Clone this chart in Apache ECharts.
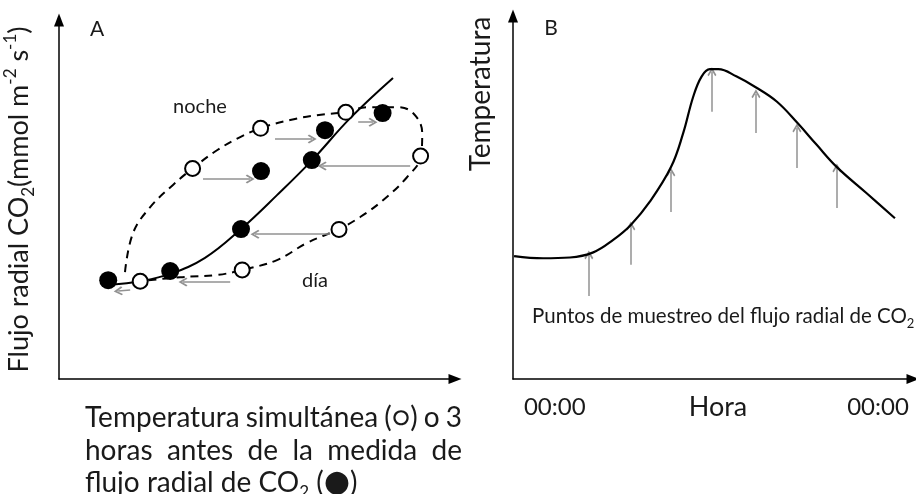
<!DOCTYPE html>
<html>
<head>
<meta charset="utf-8">
<script src="https://cdn.jsdelivr.net/npm/echarts@6/dist/echarts.min.js"></script>
</head>
<body style="margin:0;background:#fff">
<div id="main" style="width:916px;height:494px;"></div>
<script>
// Panel A: temperatura (x) frente a flujo radial de CO2 (y), unidades arbitrarias
var abiertos = [[2.03,2.68],[3.34,5.77],[5.04,6.87],[7.17,7.31],[9.04,6.11],[7.00,4.10],[4.58,2.99]];
var llenos = [[1.23,2.71],[2.78,2.96],[4.55,4.11],[5.05,5.70],[6.32,6.00],[6.65,6.82],[8.09,7.29]];
var ajuste = [[1.28,2.58],[2.03,2.68],[2.78,2.88],[3.65,3.32],[4.55,4.11],[5.45,5.04],[6.33,6.00],[7.28,7.15],[8.35,8.25]];
var bucle = [[1.65,2.93],[1.85,4.00],[2.28,4.71],[2.85,5.32],[3.35,5.78],[3.95,6.27],[4.53,6.63],[5.05,6.88],
  [5.78,7.10],[6.45,7.23],[7.18,7.32],[7.70,7.45],[8.45,7.45],[8.85,7.29],[9.08,6.74],[9.05,6.11],[8.70,5.53],
  [8.10,4.90],[7.53,4.44],[7.00,4.11],[6.20,3.73],[5.45,3.26],[4.58,2.99],[3.95,2.85],[3.03,2.79],[2.03,2.68]];
var flechasA = [
  [[1.78,2.44],[1.48,2.41]],
  [[4.28,2.66],[3.10,2.66]],
  [[3.60,5.48],[4.78,5.48]],
  [[5.40,6.58],[6.33,6.58]],
  [[7.48,7.04],[7.85,7.04]],
  [[8.78,5.84],[6.58,5.84]],
  [[6.78,3.97],[4.90,3.97]]
];

// Panel B: temperatura a lo largo del dia (horas)
var horas = [-3.02,-0.87,1.13,2.86,4.34,5.63,7.06,8.64,9.53,10.28,10.90,11.52,12.14,13.51,14.92,16.48,18.01,19.45,20.93,23.16,25.26];
var temperatura = [3.35,3.29,3.31,3.45,3.79,4.19,4.83,5.78,6.69,7.69,8.24,8.44,8.44,8.24,7.95,7.56,6.98,6.38,5.78,5.06,4.38];
var muestreoHora = [2.53,5.65,8.62,11.67,14.94,17.98,20.95];
var muestreoBase = [2.26,3.11,4.55,7.28,6.70,5.75,4.66];
var muestreoPunta = [3.38,4.17,5.64,8.37,7.77,6.84,5.75];
var horaTicks = [0, 24];

var lineasTitulo = [
  ['Temperatura', 'simultánea', '(○)', 'o', '3'],
  ['horas', 'antes', 'de', 'la', 'medida', 'de']
];

var FONT = 'Lato';
var INK = '#1a1a1a';
var GRIS = '#929292';
var punta = 'path://M5,0 L10,7 L8.6,8.2 L5,3.2 L1.4,8.2 L0,7 Z';

var curvaB = horas.map(function (h, i) { return [h, temperatura[i]]; });
var flechasB = muestreoHora.map(function (h, i) {
  return [[h, muestreoBase[i]], [h, muestreoPunta[i]]];
});

function eje(extra) {
  var o = {
    type: 'value',
    axisLine: { show: true, onZero: false, symbol: ['none', 'triangle'], symbolSize: [10, 13], lineStyle: { color: '#000', width: 1.5 } },
    axisTick: { show: false },
    axisLabel: { show: false },
    splitLine: { show: false }
  };
  for (var k in extra) o[k] = extra[k];
  return o;
}

function texto(x, y, t, size, extra) {
  var e = { type: 'text', x: x, y: y, style: { text: t, fontSize: size, fontFamily: FONT, fill: INK,
    align: 'center', textAlign: 'center', verticalAlign: 'middle', textVerticalAlign: 'middle' } };
  for (var k in extra) e[k] = extra[k];
  return e;
}

// texto justificado, palabra a palabra
var ctx = document.createElement('canvas').getContext('2d');
var TFS = 28;
ctx.font = TFS + 'px ' + FONT;
function justificar(palabras, x0, x1, y) {
  var anchos = palabras.map(function (p) { return ctx.measureText(p).width; });
  var suma = anchos.reduce(function (a, b) { return a + b; }, 0);
  var hueco = (x1 - x0 - suma) / (palabras.length - 1);
  var x = x0, out = [];
  palabras.forEach(function (p, i) {
    out.push({ type: 'text', x: x, y: y, style: { text: p, fontSize: TFS, fontFamily: FONT, fill: INK, verticalAlign: 'middle', textVerticalAlign: 'middle' } });
    x += anchos[i] + hueco;
  });
  return out;
}

var graficos = [
  texto(97, 29, 'A', 21),
  texto(551, 28, 'B', 21),
  texto(200, 107, 'noche', 20),
  texto(315, 281, 'día', 20),
  texto(481, 94, 'Temperatura', 28, { rotation: Math.PI / 2 }),
  texto(718, 407, 'Hora', 27),
  { type: 'text', x: 532, y: 316, style: {
      text: '{n|Puntos de muestreo del flujo radial de CO}{s|2}', fill: INK, verticalAlign: 'middle', textVerticalAlign: 'middle',
      rich: { n: { fontSize: 20.5, fontFamily: FONT, color: INK, lineHeight: 28 }, s: { fontSize: 13, fontFamily: FONT, color: INK, verticalAlign: 'bottom' } } } },
  { type: 'text', x: 85, y: 483, style: {
      text: '{n|flujo radial de CO}{s|2}{n| (}{p|●}{n|)}', fill: INK, verticalAlign: 'middle', textVerticalAlign: 'middle',
      rich: {
        n: { fontSize: TFS, fontFamily: FONT, color: INK, lineHeight: 36 },
        s: { fontSize: 17, fontFamily: FONT, color: INK, verticalAlign: 'bottom' },
        p: { fontSize: 30, fontFamily: 'DejaVu Sans', color: '#000' }
      } } }
];
graficos = graficos.concat(justificar(lineasTitulo[0], 85, 462, 418), justificar(lineasTitulo[1], 85, 462, 451));

var option = {
  animation: false,
  backgroundColor: '#fff',
  grid: [
    { left: 59, top: 20, width: 396, height: 359 },
    { left: 513, top: 16, width: 400, height: 363 }
  ],
  xAxis: [
    eje({ gridIndex: 0, min: 0, max: 9.9 }),
    eje({
      gridIndex: 1, min: -3.1, max: 26.6,
      axisLabel: { show: true, customValues: horaTicks, formatter: function () { return '00:00'; }, fontSize: 24, fontFamily: FONT, color: INK, margin: 16 }
    })
  ],
  yAxis: [
    eje({
      gridIndex: 0, min: 0, max: 9.84,
      name: '{t|Flujo radial CO}{sub|2}{t|(mmol m}{sup|-2}{t| s}{sup|-1}{t|)}',
      nameLocation: 'middle', nameRotate: 90, nameGap: 22,
      nameTextStyle: {
        fontSize: 27, fontFamily: FONT, color: INK,
        rich: {
          t: { fontSize: 27, fontFamily: FONT, color: INK, lineHeight: 35 },
          sub: { fontSize: 17, fontFamily: FONT, color: INK, verticalAlign: 'bottom' },
          sup: { fontSize: 17, fontFamily: FONT, color: INK, verticalAlign: 'top' }
        }
      }
    }),
    eje({ gridIndex: 1, min: 0, max: 9.89 })
  ],
  graphic: graficos,
  series: [
    {
      name: 'bucle', type: 'line', xAxisIndex: 0, yAxisIndex: 0, data: bucle, z: 2,
      smooth: 0.4, symbol: 'none', lineStyle: { color: '#000', width: 2, type: [8, 6] }
    },
    {
      name: 'ajuste', type: 'line', xAxisIndex: 0, yAxisIndex: 0, data: ajuste, z: 2,
      smooth: 0.4, symbol: 'none', lineStyle: { color: '#000', width: 2 }
    },
    {
      name: 'flechasA', type: 'lines', coordinateSystem: 'cartesian2d', xAxisIndex: 0, yAxisIndex: 0, z: 3,
      data: flechasA.map(function (c) { return { coords: c }; }),
      symbol: ['none', punta], symbolSize: [11, 9],
      lineStyle: { color: GRIS, width: 1.5, opacity: 1 }
    },
    {
      name: 'abiertos', type: 'scatter', xAxisIndex: 0, yAxisIndex: 0, data: abiertos, z: 10,
      symbolSize: 15, itemStyle: { color: '#fff', borderColor: '#000', borderWidth: 2, opacity: 1 }
    },
    {
      name: 'llenos', type: 'scatter', xAxisIndex: 0, yAxisIndex: 0, data: llenos, z: 10,
      symbolSize: 18, itemStyle: { color: '#000', opacity: 1 }
    },
    {
      name: 'temperatura', type: 'line', xAxisIndex: 1, yAxisIndex: 1, data: curvaB,
      smooth: 0.4, symbol: 'none', lineStyle: { color: '#000', width: 2.2 }
    },
    {
      name: 'muestreo', type: 'lines', coordinateSystem: 'cartesian2d', xAxisIndex: 1, yAxisIndex: 1,
      data: flechasB.map(function (c) { return { coords: c }; }),
      symbol: ['none', punta], symbolSize: [11, 9],
      lineStyle: { color: GRIS, width: 1.5, opacity: 1 }
    }
  ]
};

var myChart = echarts.init(document.getElementById('main'));
myChart.setOption(option);
</script>
</body>
</html>
